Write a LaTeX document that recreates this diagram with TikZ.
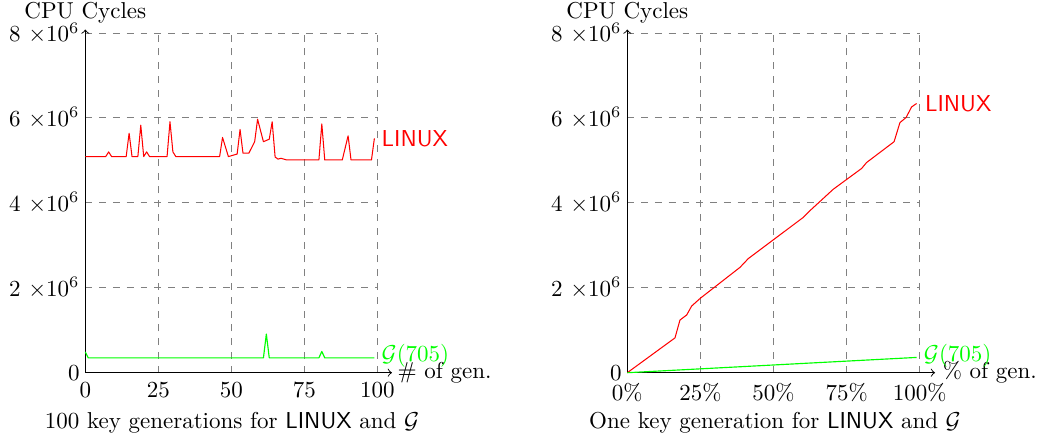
\documentclass[tikz,border=0pt]{standalone}
\usepackage{amsmath}
\begin{document}
\begin{tikzpicture}[x=0.4348pt,y=-0.4348pt,
  axisline/.style={draw=black,line width=0.4pt,->},
  gridline/.style={draw=black!50,dashed,line width=0.4pt},
  curvered/.style={draw=red,line width=0.45pt,line join=round},
  curvegreen/.style={draw=green,line width=0.5pt,line join=round},
  xtick/.style={anchor=north,inner sep=0pt,yshift=-4.2pt},
  ytick/.style={anchor=east,inner sep=0pt,xshift=-2.3pt},
  lbl/.style={inner sep=0pt},
  redlbl/.style={inner sep=0pt,anchor=west,text=red,font=\sffamily},
  greenlbl/.style={inner sep=0pt,anchor=west,text=green},
]
\useasboundingbox (0,0) rectangle (1047,441);

% ---------------- left plot ----------------
\begin{scope}[shift={(85.3,372.7)},xscale=2.92,yscale=-42.46]
  \foreach \gx in {25,50,75,100} \draw[gridline] (\gx,0) -- (\gx,8);
  \foreach \gy in {2,4,6,8} \draw[gridline] (0,\gy) -- (100,\gy);
  \coordinate (LO) at (0,0);
  \coordinate (LXend) at (105,0);
  \coordinate (LYend) at (0,8.1);
  \draw[axisline] (LO) -- (LXend);
  \draw[axisline] (LO) -- (LYend);
  \foreach \gx in {0,25,50,75,100} \node[xtick] (lxt\gx) at (\gx,0) {$\gx$};
  \node[ytick] (lyt0) at (0,0) {$0$};
  \foreach \gy in {2,4,6,8} \node[ytick] (lyt\gy) at (0,\gy) {$\gy$ $\times10^{6}$};
  \node[lbl] (lcpu) at (0,8.47) {CPU Cycles};
  \node[lbl,anchor=west] (lxlab) at (106.8,0) {\# of gen.};
  \draw[curvered] (0,5.09) -- (7,5.09) -- (8,5.2) -- (9,5.09) -- (14,5.09) -- (15,5.64) -- (16,5.09) -- (18,5.09) -- (19,5.83) -- (20,5.09) -- (21,5.2) -- (22,5.09) -- (28,5.09) -- (29,5.91) -- (30,5.2) -- (31,5.09) -- (46,5.09) -- (47,5.54) -- (49,5.09) -- (52,5.15) -- (53,5.73) -- (54,5.17) -- (56,5.17) -- (58,5.44) -- (59,5.97) -- (61,5.44) -- (63,5.5) -- (64,5.91) -- (65,5.08) -- (66,5.03) -- (67,5.05) -- (69,5.01) -- (80,5.01) -- (81,5.86) -- (82,5.01) -- (88,5.01) -- (90,5.58) -- (91,5.01) -- (98,5.01) -- (99,5.52) coordinate (LRend);
  \draw[curvegreen] (0,0.49) -- (1,0.35) -- (61,0.35) -- (62,0.91) -- (63,0.35) -- (80,0.35) -- (81,0.5) -- (82,0.35) -- (99,0.35) coordinate (LGend);
  \node[redlbl,xshift=3pt] (llinux) at (LRend) {LINUX};
  \node[greenlbl,xshift=3pt,yshift=0.8pt] (lgl) at (LGend) {$\mathcal{G}(705)$};
\end{scope}

% ---------------- right plot ----------------
\begin{scope}[shift={(627.3,372.7)},xscale=2.925,yscale=-42.46]
  \foreach \gx in {25,50,75,100} \draw[gridline] (\gx,0) -- (\gx,8);
  \foreach \gy in {2,4,6,8} \draw[gridline] (0,\gy) -- (100,\gy);
  \coordinate (RO) at (0,0);
  \coordinate (RXend) at (105.2,0);
  \coordinate (RYend) at (0,8.1);
  \draw[axisline] (RO) -- (RXend);
  \draw[axisline] (RO) -- (RYend);
  \foreach \gx in {0,25,50,75,100} \node[xtick] (rxt\gx) at (\gx,0) {$\gx\%$};
  \node[ytick] (ryt0) at (0,0) {$0$};
  \foreach \gy in {2,4,6,8} \node[ytick] (ryt\gy) at (0,\gy) {$\gy$ $\times10^{6}$};
  \node[lbl] (rcpu) at (0,8.47) {CPU Cycles};
  \node[lbl,anchor=west] (rxlab) at (107.7,0) {\% of gen.};
  \draw[curvered] (0,0) -- (16.3,0.82) -- (18.0,1.24) -- (20.3,1.36) -- (22.0,1.57) -- (24.9,1.75) -- (38.5,2.48) -- (41.4,2.69) -- (60.2,3.66) -- (62.5,3.82) -- (70.4,4.32) -- (80.1,4.81) -- (81.8,4.95) -- (91.2,5.44) -- (93.2,5.89) -- (95.3,6.01) -- (97.2,6.26) -- (98.9,6.34) coordinate (RRend);
  \draw[curvegreen] (0,0) -- (98.9,0.36) coordinate (RGend);
  \node[redlbl,xshift=3.5pt] (rlinux) at (RRend) {LINUX};
  \node[greenlbl,xshift=3pt,yshift=0.8pt] (rgl) at (RGend) {$\mathcal{G}(705)$};
\end{scope}

\node[lbl] (lcap) at (232,423) {100 key generations for \textsf{LINUX} and $\mathcal{G}$};
\node[lbl] (rcap) at (775,423) {One key generation for \textsf{LINUX} and $\mathcal{G}$};
\end{tikzpicture}
\end{document}
